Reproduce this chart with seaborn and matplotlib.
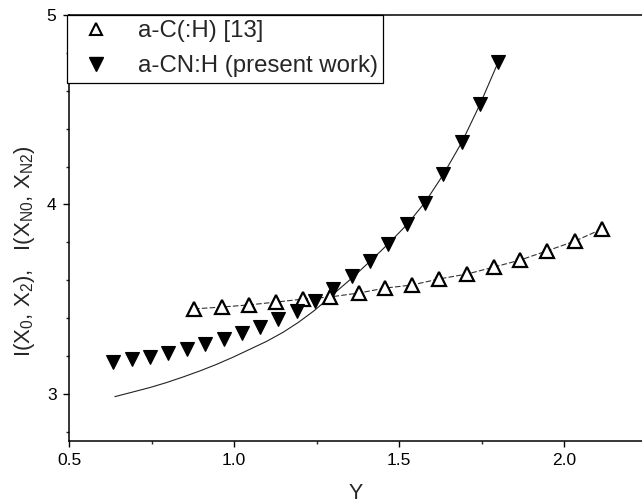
import numpy as np
import pandas as pd
import matplotlib
matplotlib.use("Agg")
import matplotlib.pyplot as plt
from matplotlib.lines import Line2D
from matplotlib.ticker import MultipleLocator
import seaborn as sns

# ---- data ----
ac_x = [0.879, 0.964, 1.045, 1.127, 1.210, 1.291, 1.379, 1.458, 1.539, 1.621,
        1.706, 1.788, 1.867, 1.948, 2.033, 2.115]
ac_y = [3.449, 3.459, 3.470, 3.485, 3.501, 3.512, 3.533, 3.559, 3.575, 3.607,
        3.633, 3.670, 3.707, 3.755, 3.807, 3.871]

cn_x = [0.633, 0.691, 0.745, 0.800, 0.858, 0.912, 0.970, 1.024, 1.079, 1.133,
        1.191, 1.245, 1.300, 1.358, 1.412, 1.467, 1.524, 1.579, 1.634, 1.690,
        1.745, 1.800]
cn_y = [3.169, 3.185, 3.195, 3.216, 3.237, 3.264, 3.290, 3.322, 3.354, 3.396,
        3.438, 3.491, 3.554, 3.623, 3.702, 3.792, 3.897, 4.008, 4.160, 4.330,
        4.530, 4.750]

fit_x = [0.639, 0.690, 0.745, 0.795, 0.846, 0.897, 0.948, 0.998, 1.048, 1.099,
         1.149, 1.195, 1.240, 1.270, 1.300, 1.358, 1.412, 1.467, 1.524, 1.579,
         1.634, 1.690, 1.745, 1.800]
fit_y = [2.986, 3.009, 3.034, 3.060, 3.090, 3.122, 3.157, 3.195, 3.236, 3.278,
         3.326, 3.378, 3.436, 3.480, 3.526, 3.613, 3.700, 3.792, 3.894, 4.012,
         4.158, 4.328, 4.528, 4.750]

label_ac = "a-C(:H) [13]"
label_cn = "a-CN:H (present work)"
x_ticks = [0.5, 1.0, 1.5, 2.0]
y_ticks = [3, 4, 5]

ac_df = pd.DataFrame({"x": ac_x, "y": ac_y})
cn_df = pd.DataFrame({"x": cn_x, "y": cn_y})
fit_df = pd.DataFrame({"x": fit_x, "y": fit_y})

sns.set_style("ticks")
plt.rcParams["font.family"] = ["Liberation Sans", "DejaVu Sans"]
plt.rcParams["mathtext.fontset"] = "custom"
plt.rcParams["mathtext.rm"] = "Liberation Sans"
plt.rcParams["mathtext.it"] = "Liberation Sans"

fig = plt.figure(figsize=(6.42, 5.03), dpi=100)
ax = fig.add_axes([0.1075, 0.1233, 0.8925, 0.8469])

# lines
sns.lineplot(data=fit_df, x="x", y="y", ax=ax, color="#222222", lw=0.8,
             sort=False, estimator=None)
sns.lineplot(data=ac_df, x="x", y="y", ax=ax, color="#333333", lw=0.8,
             sort=False, estimator=None)
ax.lines[-1].set_linestyle((0, (5, 2)))

# markers
ax.plot(ac_df["x"], ac_df["y"], ls="none", marker="^", ms=9.5,
        mfc="white", mec="black", mew=1.6, zorder=3)
ax.plot(cn_df["x"], cn_df["y"], ls="none", marker="v", ms=10.5,
        mfc="black", mec="black", mew=0.8, zorder=3)

ax.set_xlim(0.5, 2.236)
ax.set_ylim(2.752, 5.0)
ax.set_xticks(x_ticks)
ax.set_xticklabels([f"{v:.1f}" for v in x_ticks])
ax.set_yticks(y_ticks)
ax.set_yticklabels([str(v) for v in y_ticks])
ax.xaxis.set_minor_locator(MultipleLocator(0.25))
ax.yaxis.set_minor_locator(MultipleLocator(0.2))
ax.tick_params(which="major", direction="out", length=4, width=1.0,
               labelsize=12.5, colors="black", pad=5)
ax.tick_params(which="minor", direction="out", length=2.5, width=1.0)

for s in ["left", "bottom", "top"]:
    ax.spines[s].set_visible(True)
    ax.spines[s].set_color("black")
    ax.spines[s].set_linewidth(1.1)
ax.spines["right"].set_visible(False)

ax.set_xlabel("Y", fontsize=15.5)
ax.xaxis.label.set_va("baseline")
ax.xaxis.set_label_coords(0.5, -0.136)
ax.set_ylabel(r"I(X$_0$, X$_2$),   I(X$_{N0}$, X$_{N2}$)", fontsize=16)
ax.yaxis.label.set_va("center")
ax.yaxis.set_label_coords(-0.077, 0.446)

handles = [
    Line2D([], [], ls="none", marker="^", ms=8.5, mfc="white", mec="black",
           mew=1.5),
    Line2D([], [], ls="none", marker="v", ms=9.5, mfc="black", mec="black"),
]
leg = ax.legend(handles, [label_ac, label_cn], loc="upper left",
                bbox_to_anchor=(-0.004, 1.0), fontsize=17.3, frameon=True,
                fancybox=False, edgecolor="black", framealpha=1,
                borderpad=0.22, handletextpad=0.75, labelspacing=0.55,
                borderaxespad=0, handlelength=2.0)
leg.get_frame().set_linewidth(0.9)

fig.savefig("out.png", dpi=100)
